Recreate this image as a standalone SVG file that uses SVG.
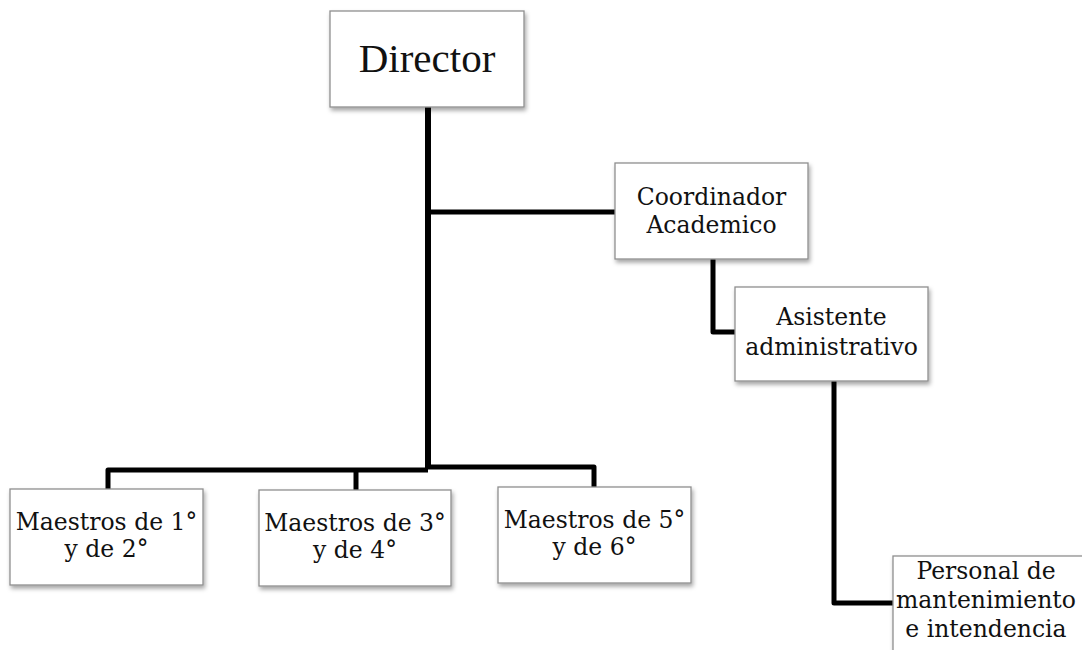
<svg xmlns="http://www.w3.org/2000/svg" width="1082" height="650" viewBox="0 0 1082 650">
<style>
.box{fill:#ffffff;stroke:#8f8f8f;stroke-width:1.3;filter:url(#sh)}
.t{font-family:"DejaVu Serif","Liberation Serif",serif;font-size:23.5px;fill:#111;text-anchor:middle}
.big{font-family:"Liberation Serif","DejaVu Serif",serif;font-size:41px;fill:#111;text-anchor:middle}
.ln{fill:none;stroke:#000;stroke-width:5;stroke-linejoin:round;stroke-linecap:butt}
</style>
<defs>
<filter id="sh" x="-10%" y="-10%" width="130%" height="140%">
<feDropShadow dx="1.5" dy="3" stdDeviation="2" flood-color="#000" flood-opacity="0.35"/>
</filter>
</defs>
<rect width="1082" height="650" fill="#ffffff"/>
<g id="connectors">
<path class="ln" d="M428,107 V469" style="stroke-width:6"/>
<path class="ln" d="M428,212 H615"/>
<path class="ln" d="M108,489 V470 H428"/>
<path class="ln" d="M428,467 H594 V487"/>
<path class="ln" d="M356,470 V490"/>
<path class="ln" d="M713,259 V332 H735"/>
<path class="ln" d="M834,381 V603 H893"/>
</g>
<g id="director">
<rect class="box" x="330" y="11" width="194" height="96"/>
<text class="big" x="427" y="72">Director</text>
</g>
<g id="coordinador">
<rect class="box" x="615" y="163" width="193" height="96"/>
<text class="t" x="711.5" y="205">Coordinador</text>
<text class="t" x="711.5" y="233">Academico</text>
</g>
<g id="asistente">
<rect class="box" x="735" y="287" width="193" height="94"/>
<text class="t" x="831.5" y="325">Asistente</text>
<text class="t" x="831.5" y="355">administrativo</text>
</g>
<g id="maestros12">
<rect class="box" x="10" y="489" width="193" height="96"/>
<text class="t" x="106.5" y="530">Maestros de 1°</text>
<text class="t" x="106.5" y="557">y de 2°</text>
</g>
<g id="maestros34">
<rect class="box" x="259" y="490" width="192" height="96"/>
<text class="t" x="355" y="531">Maestros de 3°</text>
<text class="t" x="355" y="558">y de 4°</text>
</g>
<g id="maestros56">
<rect class="box" x="498" y="487" width="193" height="96"/>
<text class="t" x="594.5" y="528">Maestros de 5°</text>
<text class="t" x="594.5" y="555">y de 6°</text>
</g>
<g id="personal">
<rect class="box" x="893" y="556" width="200" height="110"/>
<text class="t" x="986" y="579">Personal de</text>
<text class="t" x="986" y="608">mantenimiento</text>
<text class="t" x="986" y="637">e intendencia</text>
</g>
</svg>
